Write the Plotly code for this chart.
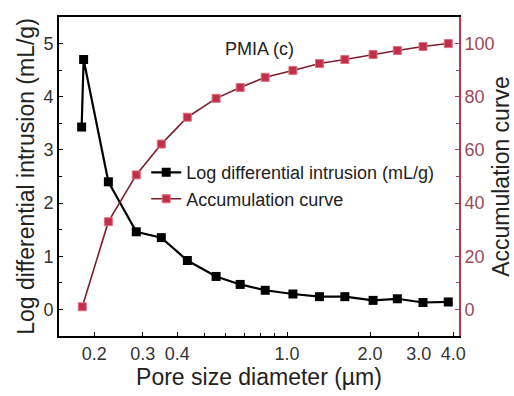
import plotly.graph_objects as go
import math

# Data
diam_log = [0.180, 0.183, 0.225, 0.284, 0.350, 0.435, 0.553, 0.676, 0.833,
            1.05, 1.31, 1.62, 2.05, 2.51, 3.11, 3.84]
log_diff = [3.43, 4.70, 2.40, 1.46, 1.35, 0.92, 0.62, 0.47, 0.36,
            0.29, 0.24, 0.24, 0.17, 0.20, 0.13, 0.14]

diam_acc = [0.181, 0.225, 0.284, 0.350, 0.435, 0.553, 0.676, 0.833,
            1.05, 1.31, 1.62, 2.05, 2.51, 3.11, 3.84]
accum = [1.0, 33.0, 50.6, 62.2, 72.3, 79.4, 83.5, 87.3,
         89.9, 92.5, 94.0, 95.9, 97.4, 98.9, 100.0]

x_ticks = [0.2, 0.3, 0.4, 1.0, 2.0, 3.0, 4.0]
x_ticktext = ["0.2", "0.3", "0.4", "1.0", "2.0", "3.0", "4.0"]
x_minor = [0.5, 0.6, 0.7, 0.8, 0.9]

RED_AX = "#B03a55"
FONT = "Liberation Sans, Arial, sans-serif"

fig = go.Figure()
fig.add_trace(go.Scatter(
    x=diam_log, y=log_diff, mode="lines+markers",
    name="Log differential intrusion (mL/g)",
    line=dict(color="black", width=2.2),
    marker=dict(symbol="square", size=9, color="black"),
))
fig.add_trace(go.Scatter(
    x=diam_acc, y=accum, mode="lines+markers", yaxis="y2",
    name="Accumulation curve",
    line=dict(color="#7a1f2e", width=1.6),
    marker=dict(symbol="square", size=8, color="#c0304a",
                line=dict(color="#e07080", width=1)),
))

fig.update_layout(
    width=514, height=396,
    margin=dict(l=59, r=55, t=17, b=60),
    paper_bgcolor="white", plot_bgcolor="white",
    font=dict(family=FONT, size=18, color="#222"),
    showlegend=True,
    legend=dict(x=0.218, y=0.57, xanchor="left", yanchor="top",
                bgcolor="rgba(0,0,0,0)", font=dict(size=18, color="#222"),
                tracegroupgap=0, itemwidth=30),
    xaxis=dict(
        type="log", range=[math.log10(0.149), math.log10(4.2)],
        automargin=False,
        tickmode="array", tickvals=x_ticks, ticktext=x_ticktext,
        ticks="inside", ticklen=4, tickcolor="black",
        minor=dict(tickmode="array", tickvals=x_minor, ticks="inside",
                   ticklen=3, tickcolor="black"),
        showline=True, linecolor="black", linewidth=2, mirror=True,
        showgrid=False, zeroline=False,
        title=dict(text="Pore size diameter (µm)", font=dict(size=23), standoff=5),
        tickfont=dict(size=18, color="#333"),
    ),
    yaxis=dict(
        range=[-0.5, 5.5], dtick=1, tick0=0, automargin=False,
        ticks="inside", ticklen=4, tickcolor="black",
        minor=dict(dtick=0.5, ticks="inside", ticklen=3, tickcolor="black"),
        showline=True, linecolor="black", linewidth=2,
        showgrid=False, zeroline=False,
        title=dict(text="Log differential intrusion (mL/g)", font=dict(size=23), standoff=2),
        tickfont=dict(size=18, color="#333"),
    ),
    yaxis2=dict(
        overlaying="y", side="right", automargin=False,
        range=[-10, 110], dtick=20, tick0=0,
        ticks="inside", ticklen=4, tickcolor=RED_AX,
        minor=dict(dtick=10, ticks="inside", ticklen=3, tickcolor=RED_AX),
        showline=True, linecolor=RED_AX, linewidth=2,
        showgrid=False, zeroline=False,
        title=dict(text="Accumulation curve", font=dict(size=23, color="#222"), standoff=0),
        tickfont=dict(size=18, color="#9a4a5c"),
    ),
    annotations=[dict(text="PMIA (c)", xref="paper", yref="paper",
                      x=0.5, y=0.937, showarrow=False,
                      font=dict(size=18, color="#222"))],
)

fig.write_html("out.html")
